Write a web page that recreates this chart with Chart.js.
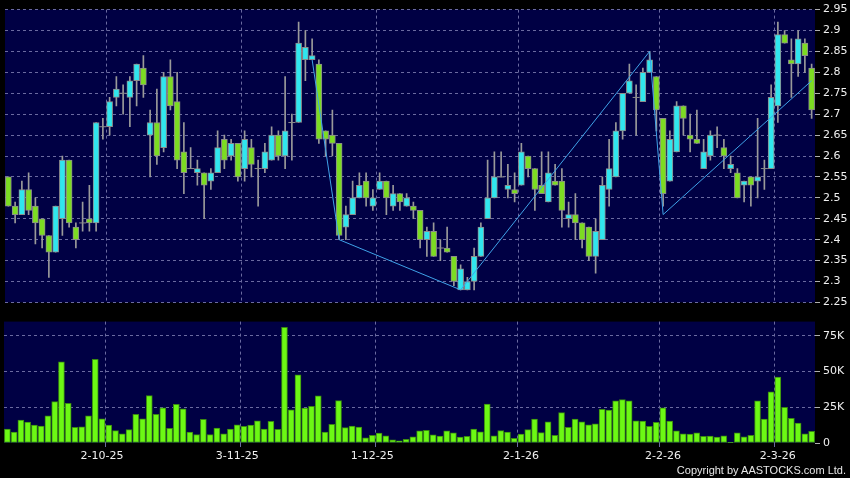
<!DOCTYPE html>
<html>
<head>
<meta charset="utf-8">
<script src="https://cdn.jsdelivr.net/npm/chart.js@4.4.1/dist/chart.umd.min.js"></script>
<style>
html, body { margin: 0; padding: 0; background: #000; }
#wrap { position: relative; width: 850px; height: 478px; background: #000; overflow: hidden; }
#priceCanvas { position: absolute; left: 0; top: 0; }
#volCanvas { position: absolute; left: 0; top: 312px; }
#copy { position: absolute; right: 4px; top: 464px; line-height: 13px; color: #e8e8e8;
        font: 11px "Liberation Sans", Arial, sans-serif; }
</style>
</head>
<body>
<div id="wrap">
  <canvas id="priceCanvas" width="850" height="312"></canvas>
  <canvas id="volCanvas" width="850" height="166"></canvas>
  <div id="copy">Copyright by AASTOCKS.com Ltd.</div>
</div>
<script>
// daily candles, oldest first
const opens = [
  2.55, 2.48, 2.46, 2.52, 2.48, 2.45, 2.41, 2.37, 2.45, 2.59,
  2.43, 2.44, 2.45, 2.44, 2.67, 2.67, 2.74, 2.75, 2.74, 2.78,
  2.81, 2.65, 2.68, 2.62, 2.79, 2.73, 2.61, 2.57, 2.56, 2.56,
  2.54, 2.56, 2.64, 2.60, 2.63, 2.57, 2.62, 2.57, 2.57, 2.59,
  2.65, 2.60, 2.68, 2.68, 2.83, 2.83, 2.82, 2.66, 2.65, 2.63,
  2.43, 2.46, 2.50, 2.54, 2.48, 2.52, 2.54, 2.48, 2.51, 2.48,
  2.48, 2.47, 2.40, 2.42, 2.38, 2.38, 2.36, 2.28, 2.28, 2.30,
  2.36, 2.45, 2.50, 2.55, 2.52, 2.52, 2.53, 2.60, 2.57, 2.53,
  2.49, 2.54, 2.54, 2.45, 2.46, 2.44, 2.43, 2.36, 2.40, 2.52,
  2.55, 2.66, 2.75, 2.74, 2.73, 2.80, 2.79, 2.69, 2.54, 2.61,
  2.72, 2.65, 2.64, 2.57, 2.60, 2.65, 2.62, 2.57, 2.56, 2.53,
  2.55, 2.54, 2.57, 2.57, 2.72, 2.89, 2.83, 2.82, 2.87, 2.81
];
const highs = [
  2.55, 2.49, 2.54, 2.56, 2.50, 2.45, 2.41, 2.48, 2.60, 2.59,
  2.44, 2.49, 2.53, 2.68, 2.69, 2.74, 2.79, 2.77, 2.79, 2.82,
  2.84, 2.71, 2.76, 2.80, 2.83, 2.80, 2.68, 2.62, 2.59, 2.56,
  2.57, 2.66, 2.65, 2.64, 2.63, 2.66, 2.64, 2.59, 2.63, 2.67,
  2.66, 2.79, 2.70, 2.92, 2.90, 2.88, 2.83, 2.66, 2.71, 2.63,
  2.48, 2.54, 2.56, 2.56, 2.52, 2.56, 2.54, 2.53, 2.51, 2.51,
  2.49, 2.47, 2.43, 2.44, 2.40, 2.43, 2.36, 2.34, 2.31, 2.38,
  2.44, 2.59, 2.61, 2.61, 2.58, 2.56, 2.63, 2.60, 2.57, 2.61,
  2.61, 2.58, 2.57, 2.49, 2.51, 2.44, 2.43, 2.45, 2.55, 2.64,
  2.68, 2.75, 2.82, 2.77, 2.81, 2.85, 2.79, 2.69, 2.66, 2.73,
  2.72, 2.70, 2.71, 2.64, 2.66, 2.67, 2.64, 2.60, 2.57, 2.54,
  2.55, 2.69, 2.59, 2.77, 2.92, 2.90, 2.88, 2.90, 2.88, 2.82
];
const lows = [
  2.48, 2.44, 2.46, 2.46, 2.39, 2.38, 2.31, 2.37, 2.41, 2.43,
  2.38, 2.42, 2.42, 2.42, 2.64, 2.65, 2.72, 2.70, 2.67, 2.72,
  2.74, 2.55, 2.58, 2.61, 2.71, 2.57, 2.51, 2.57, 2.53, 2.45,
  2.52, 2.56, 2.57, 2.59, 2.54, 2.54, 2.55, 2.48, 2.56, 2.59,
  2.59, 2.57, 2.59, 2.68, 2.78, 2.83, 2.63, 2.60, 2.60, 2.40,
  2.40, 2.46, 2.50, 2.48, 2.47, 2.52, 2.46, 2.47, 2.47, 2.48,
  2.45, 2.38, 2.36, 2.36, 2.35, 2.37, 2.29, 2.28, 2.28, 2.28,
  2.36, 2.45, 2.50, 2.55, 2.50, 2.49, 2.53, 2.55, 2.47, 2.51,
  2.49, 2.53, 2.43, 2.43, 2.40, 2.38, 2.35, 2.32, 2.40, 2.48,
  2.55, 2.64, 2.75, 2.65, 2.73, 2.80, 2.66, 2.48, 2.54, 2.61,
  2.65, 2.61, 2.63, 2.57, 2.59, 2.62, 2.57, 2.56, 2.50, 2.49,
  2.48, 2.50, 2.52, 2.57, 2.68, 2.87, 2.74, 2.79, 2.80, 2.69
];
const closes = [
  2.48, 2.46, 2.52, 2.47, 2.44, 2.41, 2.37, 2.48, 2.59, 2.44,
  2.40, 2.44, 2.44, 2.68, 2.67, 2.73, 2.76, 2.75, 2.78, 2.82,
  2.77, 2.68, 2.60, 2.79, 2.72, 2.59, 2.56, 2.57, 2.57, 2.53,
  2.56, 2.62, 2.59, 2.63, 2.55, 2.64, 2.58, 2.57, 2.61, 2.65,
  2.60, 2.66, 2.68, 2.87, 2.86, 2.84, 2.64, 2.64, 2.63, 2.41,
  2.46, 2.50, 2.53, 2.50, 2.50, 2.54, 2.50, 2.51, 2.49, 2.50,
  2.47, 2.40, 2.42, 2.36, 2.38, 2.37, 2.30, 2.33, 2.30, 2.36,
  2.43, 2.50, 2.55, 2.55, 2.53, 2.51, 2.61, 2.57, 2.52, 2.51,
  2.56, 2.53, 2.47, 2.46, 2.44, 2.40, 2.36, 2.42, 2.53, 2.57,
  2.66, 2.75, 2.78, 2.74, 2.80, 2.83, 2.71, 2.51, 2.64, 2.72,
  2.69, 2.64, 2.63, 2.61, 2.65, 2.65, 2.60, 2.58, 2.50, 2.54,
  2.53, 2.55, 2.57, 2.74, 2.89, 2.87, 2.82, 2.88, 2.84, 2.71
];
const volumes = [
   9800,  7600, 16000, 14600, 12600, 11900, 19000, 29000, 56800, 27700,
  11000, 11400, 19000, 58600, 16900, 12600,  8700,  6400,  9400, 20000,
  16900, 33200, 20000, 24700, 10300, 27000, 24000,  7600,  5900, 16500,
   5900, 10500,  6400,  9800, 12800, 11700, 12600, 15600,  9800, 15100,
   9600, 81000, 23300, 47800, 24500, 25600, 33000,  7600, 13000, 29700,
  10800, 11900, 11200,  3700,  5300,  6900,  5000,  2300,  1600,  2500,
   4300,  8500,  8900,  5700,  4800,  8500,  7100,  4100,  4600,  9800,
   7800, 27200,  5000,  8700,  7600,  3200,  6200,  9400, 16700,  7300,
  14900,  5300, 21300, 11000, 16700, 14900, 12800, 13500, 23600, 23100,
  29500, 30400, 29500, 15600, 15300, 11700, 14400, 24700, 15300,  8500,
   6400,  6200,  7100,  4600,  4800,  4100,  5000,   500,  7100,  4300,
   5300, 29500, 16700, 35900, 46200, 24900, 17200, 14000,  6400,  8200
];

// zigzag turning points (candle index, price)
const zigIdx = [45, 49, 67, 95, 97, 119];
const zigVal = [2.83, 2.40, 2.28, 2.85, 2.46, 2.78];

// axis ticks
const dateIdx = [14, 34, 54, 76, 97, 114];
const dateLabels = ['2-10-25', '3-11-25', '1-12-25', '2-1-26', '2-2-26', '2-3-26'];
const gridIdx = [15, 35, 55, 76, 97, 114];
const priceTicks = [2.25, 2.3, 2.35, 2.4, 2.45, 2.5, 2.55, 2.6, 2.65, 2.7, 2.75, 2.8, 2.85, 2.9, 2.95];
const volTicks = [0, 25000, 50000, 75000];

const UP = '#30e6ee';
const DOWN = '#7cdc22';
const EDGE = '#8c8c8c';
const GRID = '#6a6aa0';
const NAVY = '#000044';
const FONT = { family: 'DejaVu Sans', size: 11 };

const labels = opens.map((_, i) => i);
const wicks = lows.map((l, i) => [l, highs[i]]);
const bodies = opens.map((o, i) => [o, closes[i]]);
const bodyColors = opens.map((o, i) => closes[i] >= o ? UP : DOWN);
const dojis = opens.map((o, i) => o === closes[i] ? o : null);
const zigzag = opens.map(() => null);
zigIdx.forEach((k, j) => { zigzag[k] = zigVal[j]; });

const panelBg = {
    id: 'panelBg',
    beforeDraw(chart) {
        const { ctx, chartArea: a } = chart;
        ctx.save();
        ctx.fillStyle = NAVY;
        ctx.fillRect(a.left, a.top, a.right - a.left, a.bottom - a.top);
        ctx.restore();
    }
};

const vGrid = c => gridIdx.includes(c.index) ? GRID : 'transparent';

const priceChart = new Chart(document.getElementById('priceCanvas'), {
    type: 'bar',
    data: {
        labels: labels,
        datasets: [{
            type: 'line',
            data: zigzag,
            borderColor: '#3fa2e8',
            borderWidth: 1,
            pointRadius: 0,
            spanGaps: true,
            tension: 0,
            order: 0
        }, {
            type: 'line',
            data: dojis,
            showLine: false,
            pointStyle: 'line',
            pointRadius: 3.5,
            borderColor: EDGE,
            borderWidth: 1,
            order: 1
        }, {
            data: bodies,
            backgroundColor: bodyColors,
            borderColor: EDGE,
            borderWidth: 1,
            borderSkipped: false,
            barThickness: 6,
            grouped: false,
            order: 2
        }, {
            data: wicks,
            backgroundColor: '#9a9a9a',
            borderWidth: 0,
            barThickness: 1,
            grouped: false,
            order: 3
        }]
    },
    options: {
        responsive: false,
        animation: false,
        layout: { padding: { left: 4, top: 7, right: 0, bottom: 6 } },
        plugins: { legend: { display: false }, tooltip: { enabled: false } },
        scales: {
            x: {
                offset: true,
                ticks: { display: false },
                grid: { offset: true, drawTicks: false, color: vGrid },
                border: { display: false, dash: [3, 3] },
                afterFit(s) { s.height = 0; }
            },
            y: {
                position: 'right',
                min: 2.25,
                max: 2.95,
                afterBuildTicks(s) { s.ticks = priceTicks.map(v => ({ value: v })); },
                afterFit(s) { s.width = 35; },
                ticks: {
                    color: '#f0f0f0',
                    font: FONT,
                    padding: 3,
                    callback: v => String(parseFloat(v.toFixed(2)))
                },
                grid: { color: GRID, tickLength: 5, tickColor: '#b0b0b0' },
                border: { display: false, dash: [3, 3] }
            }
        }
    },
    plugins: [panelBg]
});

const volChart = new Chart(document.getElementById('volCanvas'), {
    type: 'bar',
    data: {
        labels: labels,
        datasets: [{
            data: volumes,
            backgroundColor: '#6cf814',
            borderColor: '#3a8a10',
            borderWidth: 1,
            borderSkipped: false,
            barThickness: 6
        }]
    },
    options: {
        responsive: false,
        animation: false,
        layout: { padding: { left: 4, top: 7, right: 0, bottom: 0 } },
        plugins: { legend: { display: false }, tooltip: { enabled: false } },
        scales: {
            x: {
                offset: true,
                ticks: {
                    autoSkip: false,
                    maxRotation: 0,
                    color: '#f0f0f0',
                    font: FONT,
                    padding: 3,
                    callback: (v, i) => {
                        const k = dateIdx.indexOf(i);
                        return k >= 0 ? dateLabels[k] : '';
                    }
                },
                grid: { offset: true, color: vGrid, tickLength: 4, tickColor: vGrid },
                border: { display: false, dash: [3, 3] },
                afterFit(s) { s.height = 35; }
            },
            y: {
                position: 'right',
                min: 0,
                max: 85000,
                afterBuildTicks(s) { s.ticks = volTicks.map(v => ({ value: v })); },
                afterFit(s) { s.width = 35; },
                ticks: {
                    color: '#f0f0f0',
                    font: FONT,
                    padding: 3,
                    callback: v => v === 0 ? '0' : (v / 1000) + 'K'
                },
                grid: {
                    color: c => (c.tick && c.tick.value === 0) ? 'transparent' : GRID,
                    tickLength: 5,
                    tickColor: '#b0b0b0'
                },
                border: { display: false, dash: [3, 3] }
            }
        }
    },
    plugins: [panelBg]
});
</script>
</body>
</html>
